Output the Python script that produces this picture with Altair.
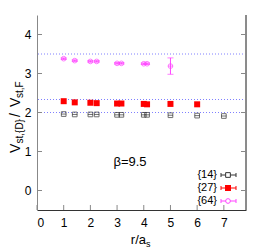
import altair as alt
import pandas as pd

# ---- data ----
r_vals = [1, 1.414, 2, 2.236, 3, 3.162, 4, 4.123, 5, 6, 7]
v14 = [1.96, 1.95, 1.95, 1.95, 1.94, 1.94, 1.94, 1.94, 1.93, 1.92, 1.91]
v27 = [2.29, 2.26, 2.25, 2.24, 2.23, 2.23, 2.22, 2.21, 2.22, 2.21]
v64 = [3.38, 3.33, 3.31, 3.31, 3.26, 3.26, 3.25, 3.25, 3.19]
e64 = [0.02, 0.02, 0.02, 0.02, 0.02, 0.02, 0.02, 0.02, 0.21]
casimir = [2.0, 7 / 3, 3.5]
x_ticks = [0, 1, 2, 3, 4, 5, 6, 7]
y_ticks = [0, 1, 2, 3, 4]
labels = ["{14}", "{27}", "{64}"]

W, H = 209, 195
FONT = "Liberation Sans Narrow, Liberation Sans, Arial"
C14, C27, C64 = "#333333", "#ff0000", "#ff44ff"
AX = "#888888"

d14 = pd.DataFrame({"r": r_vals[:len(v14)], "v": v14})
d27 = pd.DataFrame({"r": r_vals[:len(v27)], "v": v27})
d64 = pd.DataFrame({"r": r_vals[:len(v64)], "v": v64, "e": e64})
d64["lo"] = d64["v"] - d64["e"]
d64["hi"] = d64["v"] + d64["e"]

xs = alt.Scale(domain=[0, 7.83], nice=False, zero=False)
ys = alt.Scale(domain=[-0.5, 4.5], nice=False, zero=False)

AXX = alt.Axis(values=x_ticks, title=None, ticks=False, grid=False,
               domainColor="#333333", labelFont=FONT, labelFontSize=12,
               labelColor="#000", labelPadding=7, labelOverlap=False)
AXY = alt.Axis(values=y_ticks, title=None, ticks=False, grid=False,
               domainColor=AX, labelFont=FONT, labelFontSize=12,
               labelColor="#000", labelPadding=6, labelOverlap=False)


def xq(f="r"):
    return alt.X(f"{f}:Q", scale=xs, axis=AXX)


def yq(f="v"):
    return alt.Y(f"{f}:Q", scale=ys, axis=AXY)


base = alt.Chart(d14).mark_point(opacity=0).encode(x=xq(), y=yq())

hl = alt.Chart(pd.DataFrame({"v": casimir})).mark_rule(
    color="#8080ff", strokeDash=[1, 2], strokeWidth=1).encode(y=yq())

yt = pd.DataFrame({"v": y_ticks})
xt = pd.DataFrame({"r": x_ticks})
ytl = alt.Chart(yt).mark_rule(color=AX).encode(y=yq(), x=alt.value(0), x2=alt.value(5))
ytr = alt.Chart(yt).mark_rule(color=AX).encode(y=yq(), x=alt.value(W - 5), x2=alt.value(W))
xtb = alt.Chart(xt).mark_rule(color=AX).encode(x=xq(), y=alt.value(H), y2=alt.value(H - 5))
rborder = alt.Chart(yt).mark_rule(color=AX).encode(x=alt.value(W), y=alt.value(0), y2=alt.value(H))

err = alt.Chart(d64).mark_rule(color=C64, strokeWidth=1).encode(x=xq(), y=yq("lo"), y2="hi:Q")
cap_lo = alt.Chart(d64).mark_tick(color=C64, orient="horizontal", size=6, thickness=1).encode(x=xq(), y=yq("lo"))
cap_hi = alt.Chart(d64).mark_tick(color=C64, orient="horizontal", size=6, thickness=1).encode(x=xq(), y=yq("hi"))

p14 = alt.Chart(d14).mark_point(shape="square", filled=False, size=22, strokeWidth=1, color=C14).encode(x=xq(), y=yq())
p14b = alt.Chart(d14).mark_tick(orient="horizontal", size=5, thickness=1, color=C14).encode(x=xq(), y=yq())
p27 = alt.Chart(d27).mark_square(size=36, opacity=1, color=C27).encode(x=xq(), y=yq())
p64 = alt.Chart(d64).mark_point(shape="circle", filled=False, size=22, strokeWidth=1, color=C64).encode(x=xq(), y=yq())
p64b = alt.Chart(d64).mark_tick(orient="horizontal", size=5, thickness=1, color=C64).encode(x=xq(), y=yq())

one = pd.DataFrame({"a": [0]})


def txt(s, x, y, size=12, align="center", angle=0, baseline="alphabetic"):
    return alt.Chart(one).mark_text(text=s, font=FONT, fontSize=size, align=align, angle=angle,
                                    baseline=baseline, color="#000").encode(x=alt.value(x), y=alt.value(y))


layers = [base, hl, ytl, ytr, xtb, rborder, err, cap_lo, cap_hi, p14, p14b, p27, p64, p64b]

# legend
colors = [C14, C27, C64]
rows_y = [160, 173, 186]
for lab, col, yy, i in zip(labels, colors, rows_y, range(3)):
    layers.append(txt(lab, 180, yy, size=11, align="right", baseline="middle"))
    layers.append(alt.Chart(one).mark_rule(color=col).encode(x=alt.value(184), x2=alt.value(199), y=alt.value(yy)))
    layers.append(alt.Chart(one).mark_rule(color=col).encode(x=alt.value(184), y=alt.value(yy - 2), y2=alt.value(yy + 2)))
    layers.append(alt.Chart(one).mark_rule(color=col).encode(x=alt.value(199), y=alt.value(yy - 2), y2=alt.value(yy + 2)))
    if i == 0:
        layers.append(alt.Chart(one).mark_point(shape="square", filled=True, fill="white", size=22, stroke=col,
                                                strokeWidth=1, opacity=1).encode(x=alt.value(191), y=alt.value(yy)))
    elif i == 1:
        layers.append(alt.Chart(one).mark_square(size=36, color=col, opacity=1).encode(x=alt.value(191), y=alt.value(yy)))
    else:
        layers.append(alt.Chart(one).mark_point(shape="circle", filled=True, fill="white", size=22, stroke=col,
                                                strokeWidth=1, opacity=1).encode(x=alt.value(191), y=alt.value(yy)))

# beta label
layers.append(txt("β=9.5", 93, 151, size=13))

# x title r/a_s
layers.append(txt("r/a", 109, 229, size=13, align="right"))
layers.append(txt("s", 109, 232, size=9, align="left"))

# y title V_{st,{D}} / V_{st,F}, rotated
xm, xsub = -17, -14
layers.append(txt("V", xm, 138, size=14, align="left", angle=270))
layers.append(txt("st,{D}", xsub, 128.5, size=10, align="left", angle=270))
layers.append(txt("/", xm, 100, size=14, align="center", angle=270))
layers.append(txt("V", xm, 92, size=14, align="left", angle=270))
layers.append(txt("st,F", xsub, 83, size=10, align="left", angle=270))

chart = alt.layer(*layers).properties(
    width=W, height=H,
    autosize=alt.AutoSizeParams(type="none"),
    padding={"left": 29, "top": 7, "right": 8, "bottom": 39},
).configure_view(stroke=None).configure_axis(domainWidth=1)

chart.save("out.html", embed_options={"renderer": "svg", "actions": False})
